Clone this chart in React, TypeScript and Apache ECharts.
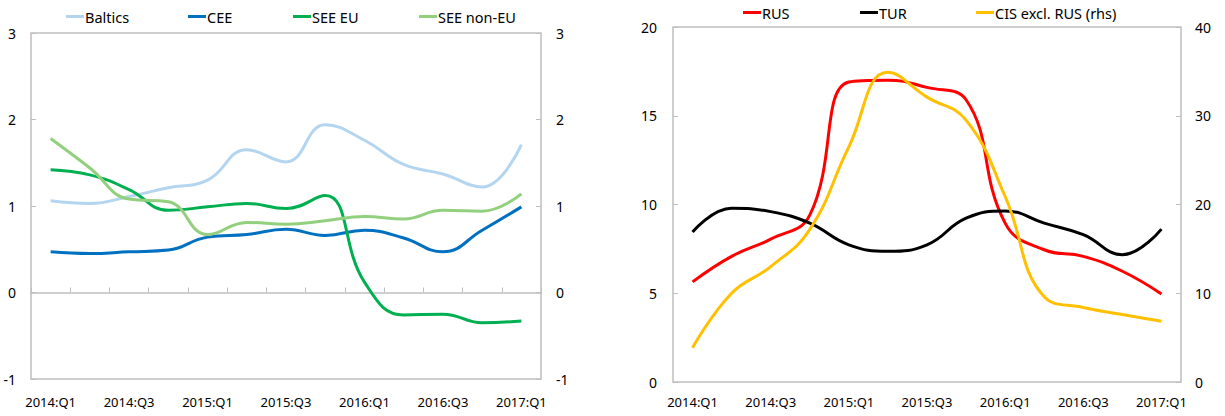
import React, { useEffect, useRef } from "react";
import * as echarts from "echarts";

const quarters = [
  "2014:Q1", "2014:Q2", "2014:Q3", "2014:Q4",
  "2015:Q1", "2015:Q2", "2015:Q3", "2015:Q4",
  "2016:Q1", "2016:Q2", "2016:Q3", "2016:Q4",
  "2017:Q1",
];

const baltics = [1.06, 1.03, 1.11, 1.21, 1.3, 1.65, 1.51, 1.94, 1.76, 1.48, 1.37, 1.22, 1.71];
const cee = [0.47, 0.45, 0.47, 0.49, 0.64, 0.67, 0.73, 0.66, 0.72, 0.63, 0.47, 0.72, 0.99];
const seeEu = [1.42, 1.36, 1.19, 0.95, 0.99, 1.03, 0.97, 1.12, 0.12, -0.26, -0.25, -0.35, -0.33];
const seeNonEu = [1.78, 1.44, 1.08, 1.05, 0.67, 0.81, 0.79, 0.83, 0.88, 0.85, 0.95, 0.94, 1.14];

const rus = [5.64, 7.08, 8.05, 9.4, 16.9, 17.0, 16.6, 15.9, 8.95, 7.45, 7.08, 6.24, 4.96];
const tur = [8.45, 9.79, 9.6, 8.95, 7.73, 7.36, 7.73, 9.23, 9.64, 8.95, 8.3, 7.17, 8.61];
const cisExRus = [3.86, 10.0, 13.0, 17.2, 26.5, 34.9, 32.1, 29.5, 20.9, 9.6, 8.4, 7.6, 6.85];

const leftTicks = { min: -1, max: 3, interval: 1 };
const rightLhs = { min: 0, max: 20, interval: 5 };
const rightRhs = { min: 0, max: 40, interval: 10 };

const FONT = "Noto Sans";
const GRAY = "#BFBFBF";

export default function App() {
  const ref = useRef<HTMLDivElement>(null);

  useEffect(() => {
    if (!ref.current) return;
    const chart = echarts.init(ref.current, undefined, { renderer: "svg" });

    const xText = { color: "#000", fontFamily: FONT, fontSize: 13 };
    const yText = { color: "#000", fontFamily: FONT, fontSize: 14 };

    const legendItem = (name: string, left: number, top: number) => ({
      data: [name],
      left,
      top,
      icon: "rect",
      itemWidth: 18,
      itemHeight: 3,
      itemGap: 0,
      padding: 0,
      textStyle: { color: "#000", fontFamily: FONT, fontSize: 14.5, padding: [0, 0, 0, -4] },
    });

    const line = (name: string, data: number[], color: string, xi: number, yi: number) => ({
      name,
      type: "line",
      data,
      xAxisIndex: xi,
      yAxisIndex: yi,
      smooth: 0.45,
      showSymbol: false,
      symbol: "none",
      lineStyle: { color, width: 3 },
      itemStyle: { color },
      emphasis: { disabled: true },
    });

    const yCommon = {
      type: "value",
      splitLine: { show: false },
      axisLine: { show: false },
      axisTick: { show: true, inside: true, length: 5, lineStyle: { color: GRAY } },
      axisLabel: { ...yText, margin: 15 },
    };

    chart.setOption({
      animation: false,
      grid: [
        { left: 31, top: 33, width: 510, height: 346, show: true, borderColor: GRAY, borderWidth: 1.5, backgroundColor: "transparent" },
        { left: 673, top: 27, width: 508, height: 355, show: true, borderColor: GRAY, borderWidth: 1.5, backgroundColor: "transparent" },
      ],
      legend: [
        legendItem("Baltics", 66, 9),
        legendItem("CEE", 188, 9),
        legendItem("SEE EU", 293, 9),
        legendItem("SEE non-EU", 419, 9),
        legendItem("RUS", 743, 5),
        legendItem("TUR", 860, 5),
        legendItem("CIS excl. RUS (rhs)", 976, 5),
      ],
      xAxis: [
        {
          type: "category",
          gridIndex: 0,
          data: quarters,
          position: "bottom",
          axisLine: { show: false, onZero: false },
          axisTick: { show: false },
          axisLabel: { ...xText, interval: 1, margin: 16 },
        },
        {
          type: "category",
          gridIndex: 0,
          data: quarters,
          position: "bottom",
          axisLine: { show: true, onZero: true, onZeroAxisIndex: 0, lineStyle: { color: GRAY, width: 1.5 } },
          axisTick: { show: true, inside: true, length: 5, interval: 0, lineStyle: { color: GRAY } },
          axisLabel: { show: false },
        },
        {
          type: "category",
          gridIndex: 1,
          data: quarters,
          position: "bottom",
          axisLine: { show: false, onZero: false },
          axisTick: { show: false },
          axisLabel: { ...xText, interval: 1, margin: 13 },
        },
      ],
      yAxis: [
        { ...yCommon, gridIndex: 0, position: "left", ...leftTicks },
        { ...yCommon, gridIndex: 0, position: "right", ...leftTicks },
        { ...yCommon, gridIndex: 1, position: "left", ...rightLhs, axisLabel: { ...yText, margin: 16 } },
        { ...yCommon, gridIndex: 1, position: "right", ...rightRhs, axisLabel: { ...yText, margin: 14 } },
      ],
      series: [
        line("Baltics", baltics, "#B4D5F0", 0, 0),
        line("CEE", cee, "#0070C0", 0, 0),
        line("SEE EU", seeEu, "#00B050", 0, 0),
        line("SEE non-EU", seeNonEu, "#92D07E", 0, 0),
        line("RUS", rus, "#FF0000", 2, 2),
        line("TUR", tur, "#000000", 2, 2),
        line("CIS excl. RUS (rhs)", cisExRus, "#FFC000", 2, 3),
      ],
    });

    return () => chart.dispose();
  }, []);

  return (
    <div
      ref={ref}
      style={{ position: "fixed", left: 0, top: 0, width: 1225, height: 416, background: "#fff" }}
    />
  );
}
